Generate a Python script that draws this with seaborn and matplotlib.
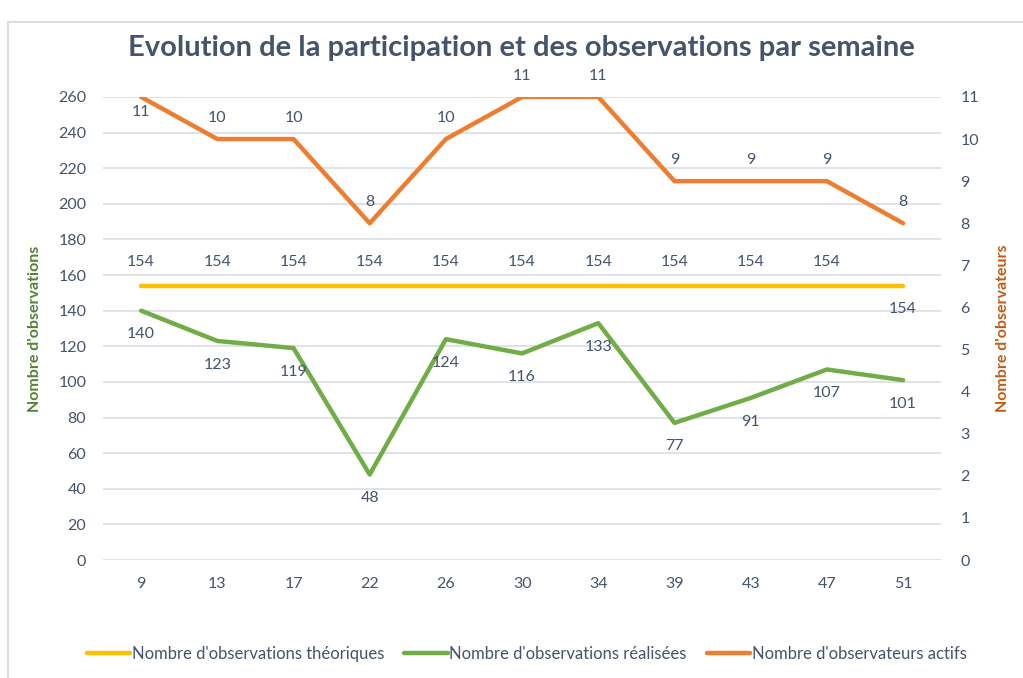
import pandas as pd
import seaborn as sns
import matplotlib.pyplot as plt
from matplotlib.patches import Rectangle

# weeks and series
semaines = ['9', '13', '17', '22', '26', '30', '34', '39', '43', '47', '51']
obs_theoriques = [154, 154, 154, 154, 154, 154, 154, 154, 154, 154, 154]
obs_realisees = [140, 123, 119, 48, 124, 116, 133, 77, 91, 107, 101]
observateurs_actifs = [11, 10, 10, 8, 10, 11, 11, 9, 9, 9, 8]

df = pd.DataFrame({'Semaine': semaines,
                   'theo': obs_theoriques,
                   'real': obs_realisees,
                   'actifs': observateurs_actifs})

sns.set_style('white')
plt.rcParams['font.family'] = ['Lato', 'DejaVu Sans']

txt = '#44546A'
yellow = '#FFC000'
green = '#70AD47'
orange = '#ED7D31'

fig = plt.figure(figsize=(10.23, 6.78), dpi=100)
ax = fig.add_axes([0.1007, 0.174, 0.8193, 0.683])
ax2 = ax.twinx()

sns.lineplot(data=df, x='Semaine', y='theo', ax=ax, color=yellow, lw=3.2,
             solid_capstyle='round', label="Nombre d'observations théoriques", legend=False)
sns.lineplot(data=df, x='Semaine', y='real', ax=ax, color=green, lw=3.2,
             solid_capstyle='round', label="Nombre d'observations réalisées", legend=False)
sns.lineplot(data=df, x='Semaine', y='actifs', ax=ax2, color=orange, lw=3.2,
             solid_capstyle='round', label="Nombre d'observateurs actifs", legend=False)

# data labels (offsets in points, like Excel placement)
n = len(semaines)
for i in range(n):
    dy = 17 if i < n - 1 else -17
    ax.annotate(str(obs_theoriques[i]), (i, obs_theoriques[i]), xytext=(0, dy),
                textcoords='offset points', ha='center', va='center', color=txt, fontsize=11.5)
    ax.annotate(str(obs_realisees[i]), (i, obs_realisees[i]), xytext=(0, -17),
                textcoords='offset points', ha='center', va='center', color=txt, fontsize=11.5)
    dy2 = 15 if i > 0 else -11
    ax2.annotate(str(observateurs_actifs[i]), (i, observateurs_actifs[i]), xytext=(0, dy2),
                 textcoords='offset points', ha='center', va='center', color=txt, fontsize=11.5)

ax.set_xlim(-0.5, n - 0.5)
ax.set_ylim(0, 260)
ax.set_yticks(range(0, 261, 20))
ax2.set_ylim(0, 11)
ax2.set_yticks(range(0, 12))
ax.grid(axis='y', color='#D9DEE5', lw=1.2)
ax.set_axisbelow(True)
for a in (ax, ax2):
    for s in a.spines.values():
        s.set_visible(False)
    a.tick_params(length=0, labelsize=11.5, labelcolor=txt)
ax.tick_params(axis='y', pad=12)
ax2.tick_params(axis='y', pad=14)
ax.tick_params(axis='x', pad=12)
ax.set_xlabel('')
ax.set_ylabel("Nombre d'observations", color='#548235', fontsize=11.5, fontweight='bold', labelpad=12)
ax2.set_ylabel("Nombre d'observateurs", color='#C55A11', fontsize=11.5, fontweight='bold', labelpad=12)

fig.suptitle('Evolution de la participation et des observations par semaine',
             x=0.51, y=0.948, fontsize=21, fontweight='bold', color=txt)

h1, l1 = ax.get_legend_handles_labels()
h2, l2 = ax2.get_legend_handles_labels()
fig.legend(h1 + h2, l1 + l2, loc='center', bbox_to_anchor=(0.515, 0.035), ncol=3,
           frameon=False, fontsize=12, labelcolor=txt, handlelength=2.6,
           handletextpad=0.1, columnspacing=1.2)

fig.patches.append(Rectangle((8 / 1023, -0.05), 1.1, 1 - 22 / 678 + 0.05,
                             transform=fig.transFigure, fill=False,
                             edgecolor='#D9DEE5', lw=1.5))

fig.savefig('out.png', dpi=100)
